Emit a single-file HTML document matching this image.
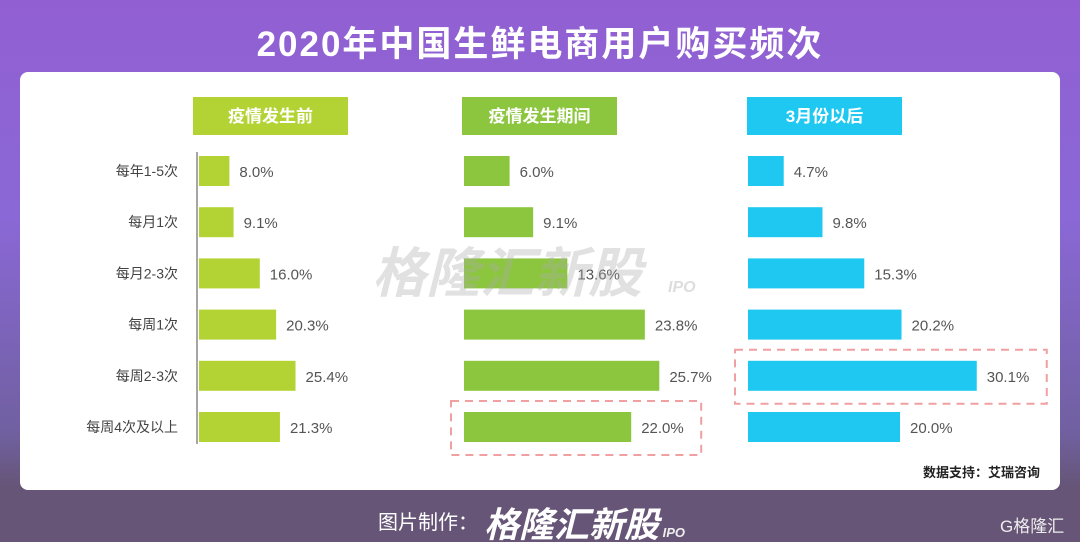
<!DOCTYPE html>
<html><head><meta charset="utf-8"><style>
body{margin:0;width:1080px;height:542px;overflow:hidden;font-family:"Liberation Sans","Noto Sans CJK SC",sans-serif;}
#bg{position:absolute;left:0;top:0;width:1080px;height:542px;background:linear-gradient(180deg,#925fd2 0%,#8a68d6 40%,#7060a0 80%,#665576 90%,#665576 100%);}
#title{position:absolute;left:0;top:16px;width:1080px;text-align:center;color:#fff;font-weight:bold;font-size:35px;letter-spacing:2px;}
#card{position:absolute;left:20px;top:72px;width:1040px;height:418px;background:#fff;border-radius:8px;}
.foot{position:absolute;color:#fff;font-weight:bold;white-space:nowrap;}
</style></head><body>
<div id="bg"></div>
<div id="title">2020年中国生鲜电商用户购买频次</div>
<div id="card"></div>
<svg id="chart" width="1080" height="542" style="position:absolute;left:0;top:0"></svg>
<div class="foot" style="left:378px;top:506px;font-size:20px;font-weight:normal">图片制作：</div>
<div class="foot" style="left:484px;top:497px;font-size:35px;font-style:italic">格隆汇新股<span style="font-size:13px;color:#eee"> IPO</span></div>
<div class="foot" style="left:1000px;top:512px;font-size:17px;font-weight:normal;color:#eee">G格隆汇</div>
<script>
const categories=["每年1-5次","每月1次","每月2-3次","每周1次","每周2-3次","每周4次及以上"];
const panelTitles=["疫情发生前","疫情发生期间","3月份以后"];
const before=[8.0,9.1,16.0,20.3,25.4,21.3];
const during=[6.0,9.1,13.6,23.8,25.7,22.0];
const after=[4.7,9.8,15.3,20.2,30.1,20.0];
const highlights=[-1,5,4];
const series=[before,during,after];
const NS="http://www.w3.org/2000/svg";
const svg=document.getElementById('chart');
function mk(t,a,p){const e=document.createElementNS(NS,t);for(const k in a)e.setAttribute(k,a[k]);(p||svg).appendChild(e);return e;}
const panels=[{x0:199,hx:193,scale:3.8,color:"#b3d334",hc:"#b3d334"},{x0:464,hx:462,scale:7.6,color:"#8cc63f",hc:"#8cc63f"},{x0:748,hx:747,scale:7.6,color:"#1ec8f0",hc:"#1ec8f0"}];
function yc(i){return 171+i*51.2;}
categories.forEach((c,i)=>{
 const t=mk('text',{x:178,y:yc(i)+5,'text-anchor':'end','font-size':14,fill:'#444'});t.textContent=c;
 
 
});
mk('line',{x1:197,y1:152,x2:197,y2:444,stroke:'#888','stroke-width':1.5});
panels.forEach((p,k)=>{
 const h=mk('rect',{x:p.hx,y:97,width:155,height:38,fill:p.hc});
 
 
 const ht=mk('text',{x:p.hx+77.5,y:122,'text-anchor':'middle','font-size':17,'font-weight':'bold',fill:'#fff'});ht.textContent=panelTitles[k];
 
 
 series[k].forEach((v,i)=>{
  const w=v*p.scale;
  const r=mk('rect',{x:p.x0,y:yc(i)-15,width:w,height:30,fill:p.color});
  
  
  const t=mk('text',{x:p.x0+w+10,y:yc(i)+6,'font-size':15,fill:'#555'});t.textContent=v.toFixed(1)+'%';
  
  
  if(highlights[k]===i){
   const b=mk('rect',{x:p.x0-13,y:yc(i)-26,width:w+83,height:54,fill:'none',stroke:'#f0a0a0','stroke-width':2,'stroke-dasharray':'8,6'});
   
   
  }
 });
});
const wm=mk('text',{x:372,y:292,'font-size':54,'font-weight':'bold','font-style':'italic',fill:'#aaa','fill-opacity':0.35});wm.textContent='格隆汇新股';


const wm2=mk('text',{x:668,y:292,'font-size':16,'font-weight':'bold','font-style':'italic',fill:'#aaa','fill-opacity':0.4});wm2.textContent='IPO';


const src=mk('text',{x:1040,y:477,'text-anchor':'end','font-size':13,'font-weight':'bold',fill:'#222'});src.textContent='数据支持：艾瑞咨询';


</script>
</body></html>
